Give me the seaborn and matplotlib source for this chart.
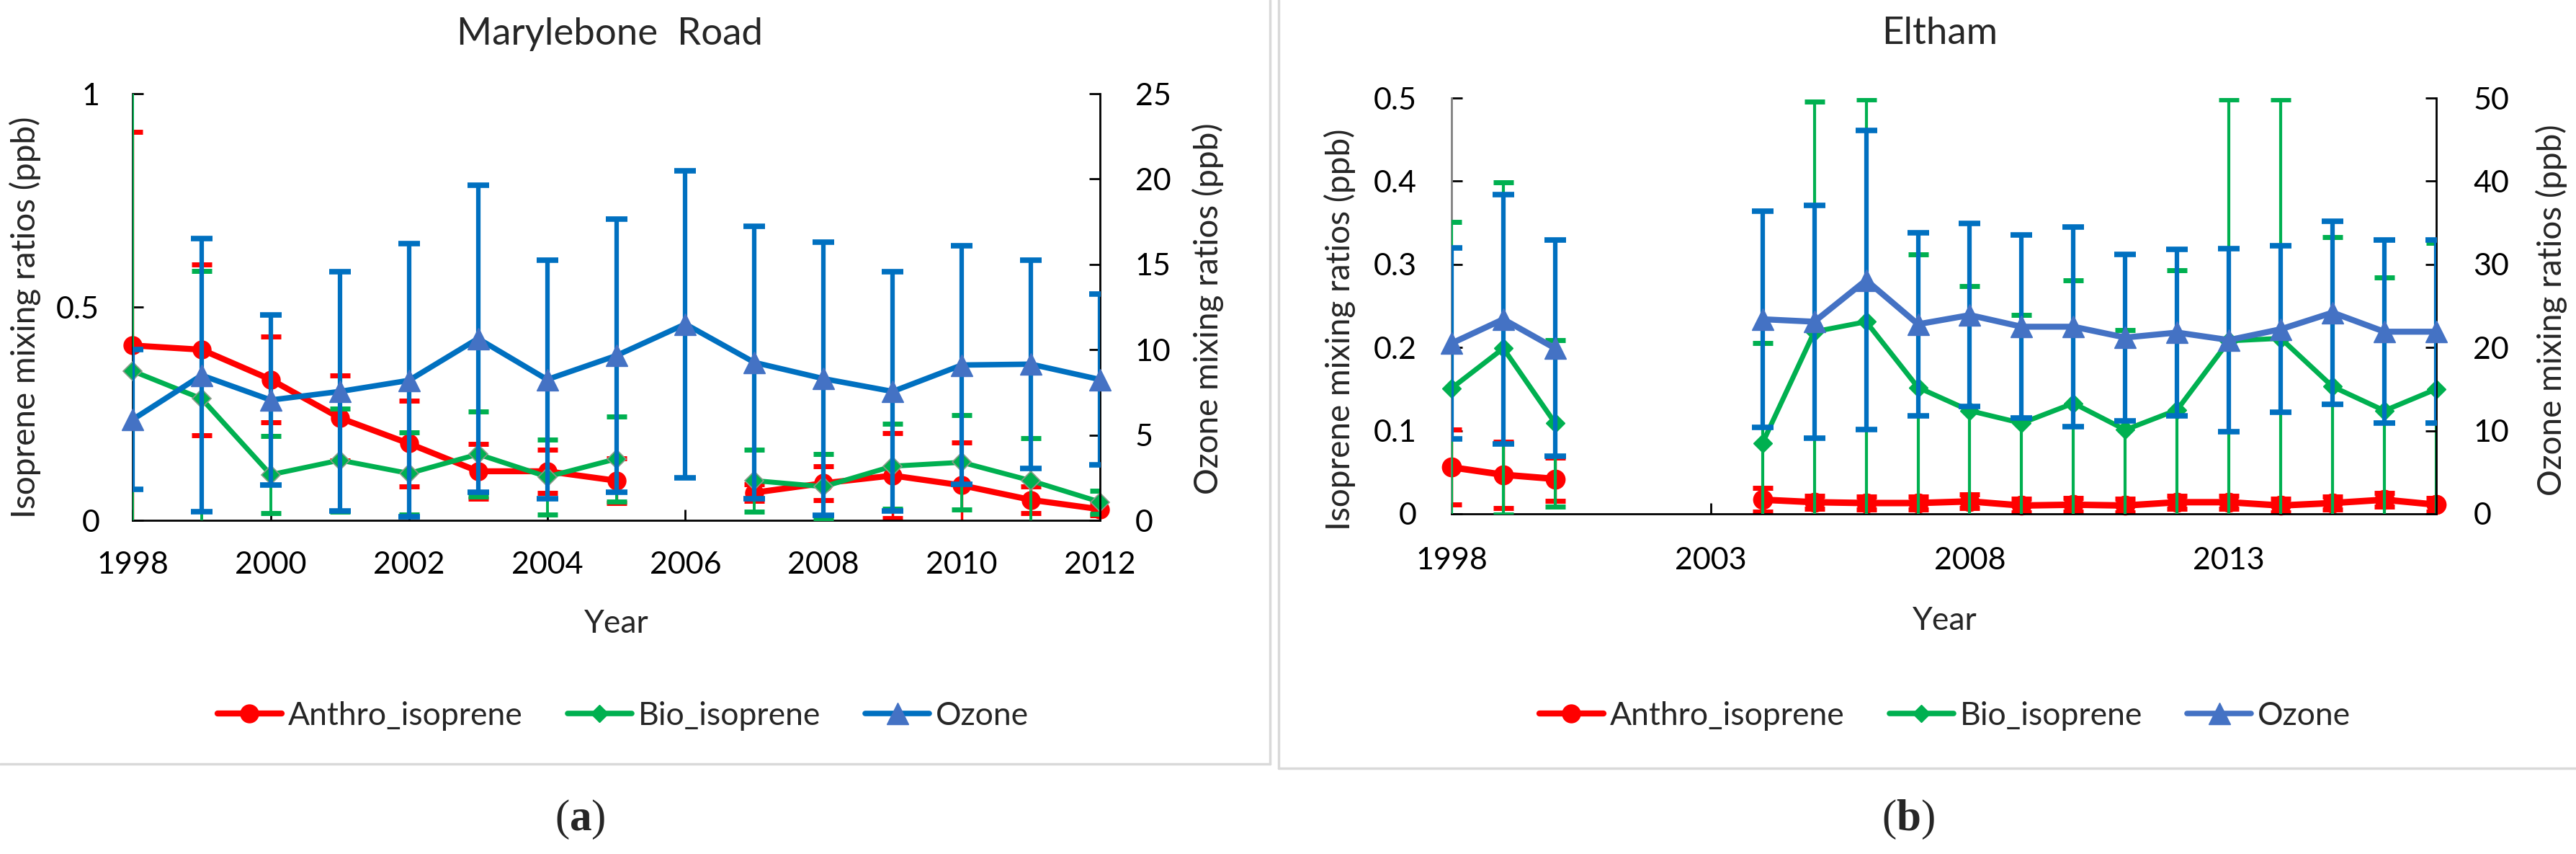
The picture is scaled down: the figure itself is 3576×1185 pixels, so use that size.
import numpy as np
import pandas as pd
import matplotlib
matplotlib.use("Agg")
import matplotlib.pyplot as plt
import seaborn as sns
from matplotlib.lines import Line2D

nan = np.nan

# ---------------- data: Marylebone Road ----------------
years_m = list(range(1998, 2013))
anthro_m = [0.41, 0.40, 0.33, 0.24, 0.18, 0.115, 0.115, 0.093, nan, 0.065, 0.087, 0.105, 0.082, 0.048, 0.026]
anthro_m_err = [0.50, 0.20, 0.10, 0.10, 0.10, 0.064, 0.05, 0.053, nan, 0.02, 0.039, 0.10, 0.10, 0.031, 0.015]
bio_m = [0.35, 0.285, 0.107, 0.141, 0.110, 0.155, 0.102, 0.144, nan, 0.093, 0.079, 0.127, 0.136, 0.093, 0.043]
bio_m_err = [0.70, 0.30, 0.09, 0.12, 0.096, 0.10, 0.088, 0.10, nan, 0.073, 0.076, 0.10, 0.11, 0.10, 0.027]
ozone_m = [5.9, 8.5, 7.05, 7.55, 8.2, 10.65, 8.25, 9.65, 11.5, 9.25, 8.3, 7.55, 9.1, 9.15, 8.25]
ozone_m_err = [4.1, 8.0, 5.0, 7.0, 8.0, 9.0, 7.0, 8.0, 9.0, 8.0, 8.0, 7.0, 7.0, 6.1, 5.0]

# ---------------- data: Eltham ----------------
years_e = list(range(1998, 2018))
anthro_e = [0.056, 0.047, 0.042, nan, nan, nan, 0.017, 0.014, 0.013, 0.013, 0.015, 0.010, 0.011,
            0.010, 0.014, 0.014, 0.010, 0.013, 0.017, 0.011]
anthro_e_err = [0.045, 0.04, 0.026, nan, nan, nan, 0.014, 0.008, 0.008, 0.008, 0.008, 0.008, 0.008,
                0.008, 0.008, 0.008, 0.008, 0.008, 0.008, 0.008]
bio_e = [0.151, 0.199, 0.109, nan, nan, nan, 0.085, 0.219, 0.231, 0.152, 0.124, 0.109, 0.133,
         0.101, 0.125, 0.208, 0.211, 0.153, 0.124, 0.150]
bio_e_err = [0.20, 0.20, 0.10, nan, nan, nan, 0.12, 0.277, 0.267, 0.16, 0.15, 0.13, 0.148,
             0.12, 0.168, 0.290, 0.287, 0.18, 0.16, 0.176]
ozone_e = [20.5, 23.4, 19.9, nan, nan, nan, 23.4, 23.1, 28.1, 22.8, 23.9, 22.5, 22.5,
           21.2, 21.8, 20.9, 22.2, 24.2, 21.9, 21.9]
ozone_e_err = [11.5, 15.0, 13.0, nan, nan, nan, 13.0, 14.0, 18.0, 11.0, 11.0, 11.0, 12.0,
               10.0, 10.0, 11.0, 10.0, 11.0, 11.0, 11.0]

# ---------------- ticks / labels ----------------
xticks_m = [1998, 2000, 2002, 2004, 2006, 2008, 2010, 2012]
yticks_m_left = [0, 0.5, 1]
ylabels_m_left = ["0", "0.5", "1"]
yticks_m_right = [0, 5, 10, 15, 20, 25]
xticks_e = [1998, 2003, 2008, 2013]
yticks_e_left = [0, 0.1, 0.2, 0.3, 0.4, 0.5]
ylabels_e_left = ["0", "0.1", "0.2", "0.3", "0.4", "0.5"]
yticks_e_right = [0, 10, 20, 30, 40, 50]
series_names = ["Anthro_isoprene", "Bio_isoprene", "Ozone"]

RED = "#FF0000"
GREEN = "#00B050"
BLUE_DARK = "#0070C0"
BLUE = "#4472C4"

sns.set_style("white")
plt.rcParams["font.family"] = ["Lato", "DejaVu Sans"]
plt.rcParams["mathtext.fontset"] = "custom"
plt.rcParams["mathtext.rm"] = "Liberation Serif"
plt.rcParams["mathtext.bf"] = "Liberation Serif:bold"

W, H = 3576, 1185
fig = plt.figure(figsize=(W / 100, H / 100), dpi=100)
fig.patch.set_facecolor("white")


def px_axes(x0, y0, x1, y1):
    return fig.add_axes([x0 / W, 1 - y1 / H, (x1 - x0) / W, (y1 - y0) / H])


def draw_series(ax, years, vals, errs, color, ecolor, marker, ms, mfc, mec, mew,
                lw, elw, capsize, capthick, z):
    df = pd.DataFrame({"Year": years, "val": vals, "err": errs})
    df["seg"] = df["val"].isna().cumsum()
    d = df.dropna()
    ax.errorbar(d["Year"], d["val"], yerr=d["err"], fmt="none", ecolor=ecolor,
                elinewidth=elw, capsize=capsize, capthick=capthick, zorder=z)
    sns.lineplot(data=d, x="Year", y="val", units="seg", estimator=None, ax=ax,
                 color=color, lw=lw, marker=marker, markersize=ms,
                 markerfacecolor=mfc, markeredgecolor=mec, markeredgewidth=mew,
                 legend=False, zorder=z + 0.5, clip_on=False)


def style_axes(ax, ax2, xlim, xticks, yl, ylt, yll, yr, yrt, tick_pad_x, pad_l, pad_r, left_spine_color):
    ax.set_xlim(*xlim)
    ax.set_xticks(xticks)
    ax.set_xticklabels([str(t) for t in xticks])
    ax.set_ylim(*yl)
    ax.set_yticks(ylt)
    ax.set_yticklabels(yll)
    ax2.set_ylim(*yr)
    ax2.set_yticks(yrt)
    ax2.set_yticklabels([str(t) for t in yrt])
    for s in ["top", "right"]:
        ax.spines[s].set_visible(False)
    for s in ["top", "left", "bottom"]:
        ax2.spines[s].set_visible(False)
    ax.spines["left"].set_color(left_spine_color)
    ax.spines["bottom"].set_color("black")
    ax2.spines["right"].set_color("black")
    for sp in [ax.spines["left"], ax.spines["bottom"], ax2.spines["right"]]:
        sp.set_linewidth(2)
    ax.tick_params(axis="x", bottom=True, direction="in", length=11, width=2,
                   pad=tick_pad_x, labelsize=31, colors="black")
    ax.tick_params(axis="y", left=True, direction="in", length=11, width=2,
                   pad=pad_l, labelsize=31, colors="black")
    ax2.tick_params(axis="y", right=True, direction="in", length=11, width=2,
                    pad=pad_r, labelsize=31, colors="black")
    ax.set_xlabel("")
    ax.set_ylabel("")
    ax2.set_ylabel("")


# ================= Panel (a) Marylebone Road =================
ax_m = px_axes(184, 130, 1527, 722)
ax_m2 = ax_m.twinx()
draw_series(ax_m, years_m, anthro_m, anthro_m_err, RED, RED, "o", 18, RED, RED, 1,
            6, 2.5, 10, 5, 2)
draw_series(ax_m, years_m, bio_m, bio_m_err, GREEN, GREEN, "D", 13, GREEN, "#8a9a8a", 1.2,
            5, 2.8, 10, 5, 3)
draw_series(ax_m2, years_m, ozone_m, ozone_m_err, BLUE_DARK, BLUE_DARK, "^", 22, BLUE, BLUE, 1,
            5.5, 4.5, 11, 5.5, 4)
style_axes(ax_m, ax_m2, (1998, 2012), xticks_m, (0, 1), yticks_m_left, ylabels_m_left,
           (0, 25), yticks_m_right, 31, 33, 35, "black")

ax_m.set_title("Marylebone  Road", fontsize=38, x=0.493, y=1.125, va="center")
ax_m.set_xlabel("Year", fontsize=32)
ax_m.xaxis.label.set_va("center")
ax_m.xaxis.set_label_coords(0.5, -0.2416)
ax_m.set_ylabel("Isoprene mixing ratios (ppb)", fontsize=33)
ax_m.yaxis.label.set_va("center")
ax_m.yaxis.set_label_coords(-0.111, 0.476)
ax_m2.set_ylabel("Ozone mixing ratios (ppb)", fontsize=33, rotation=90)
ax_m2.yaxis.label.set_va("center")
ax_m2.yaxis.set_label_coords(1.1117, 0.497)

# ================= Panel (b) Eltham =================
ax_e = px_axes(2015, 136, 3382, 713)
ax_e2 = ax_e.twinx()
draw_series(ax_e, years_e, anthro_e, anthro_e_err, RED, RED, "o", 19, RED, RED, 1,
            6.5, 2.5, 10, 5, 2)
draw_series(ax_e, years_e, bio_e, bio_e_err, GREEN, GREEN, "D", 13, GREEN, GREEN, 1,
            5, 3, 10, 5, 3)
draw_series(ax_e2, years_e, ozone_e, ozone_e_err, BLUE, BLUE_DARK, "^", 21, BLUE, BLUE, 1,
            6, 4.5, 11, 5.5, 4)
style_axes(ax_e, ax_e2, (1998, 2017), xticks_e, (0, 0.5), yticks_e_left, ylabels_e_left,
           (0, 50), yticks_e_right, 33, 35, 37, "#808080")

ax_e.set_title("Eltham", fontsize=38, x=0.496, y=1.14, va="center")
ax_e.set_xlabel("Year", fontsize=32)
ax_e.xaxis.label.set_va("center")
ax_e.xaxis.set_label_coords(0.501, -0.258)
ax_e.set_ylabel("Isoprene mixing ratios (ppb)", fontsize=33)
ax_e.yaxis.label.set_va("center")
ax_e.yaxis.set_label_coords(-0.1134, 0.444)
ax_e2.set_ylabel("Ozone mixing ratios (ppb)", fontsize=33, rotation=90)
ax_e2.yaxis.label.set_va("center")
ax_e2.yaxis.set_label_coords(1.117, 0.49)

# ================= legends =================
def legend_handles(ozone_line_color):
    return [
        Line2D([], [], color=RED, lw=6, marker="o", ms=18, mfc=RED, mec=RED),
        Line2D([], [], color=GREEN, lw=5.5, marker="D", ms=12, mfc=GREEN, mec=GREEN),
        Line2D([], [], color=ozone_line_color, lw=5.5, marker="^", ms=21, mfc=BLUE, mec=BLUE),
    ]


fig.legend(legend_handles(BLUE_DARK), series_names, loc="center",
           bbox_to_anchor=(865 / W, 1 - 993 / H), ncol=3, frameon=False, fontsize=32,
           handlelength=2.0, columnspacing=1.4, handletextpad=0.2)
fig.legend(legend_handles(BLUE), series_names, loc="center",
           bbox_to_anchor=(2700 / W, 1 - 993 / H), ncol=3, frameon=False, fontsize=32,
           handlelength=2.0, columnspacing=1.4, handletextpad=0.2)

# ================= panel frames and letters =================
frame_kw = dict(color="#d9d9d9", lw=2.5, transform=fig.transFigure)
fig.add_artist(Line2D([1763 / W, 1763 / W], [1, 1 - 1060 / H], **frame_kw))
fig.add_artist(Line2D([0, 1763 / W], [1 - 1060 / H, 1 - 1060 / H], **frame_kw))
fig.add_artist(Line2D([1775 / W, 1775 / W], [1, 1 - 1066 / H], **frame_kw))
fig.add_artist(Line2D([1775 / W, 1], [1 - 1066 / H, 1 - 1066 / H], **frame_kw))

fig.text(805 / W, 1 - 1137 / H, r"($\mathbf{a}$)", fontsize=44, ha="center", va="center",
         family="Liberation Serif")
fig.text(2649 / W, 1 - 1137 / H, r"($\mathbf{b}$)", fontsize=44, ha="center", va="center",
         family="Liberation Serif")

fig.savefig("out.png", dpi=100, facecolor="white")
